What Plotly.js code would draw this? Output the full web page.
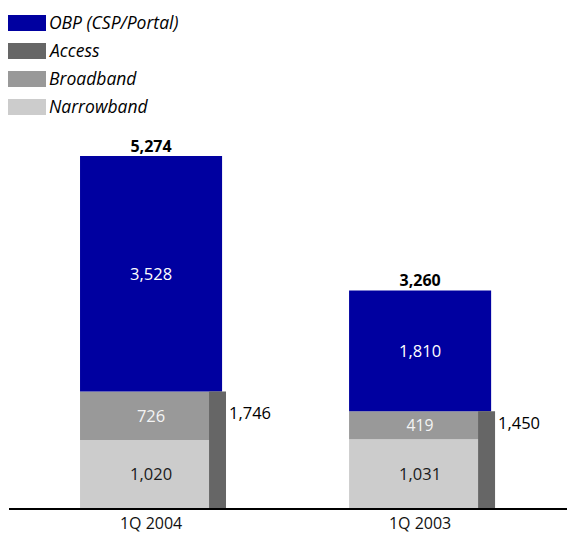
<!DOCTYPE html>
<html><head><meta charset="utf-8">
<script src="https://cdn.plot.ly/plotly-3.0.1.min.js"></script>
<style>html,body{margin:0;padding:0;background:#fff}#chart{width:567px;height:533px}</style>
</head><body><div id="chart"></div>
<script>
const categories = ['1Q 2004', '1Q 2003'];
const narrowband = [1020, 1031];
const broadband = [726, 419];
const obp = [3528, 1810];
const access = [1746, 1450];
const seriesNames = ['OBP (CSP/Portal)', 'Access', 'Broadband', 'Narrowband'];
const seriesColors = ['#0000a0', '#666666', '#999999', '#cccccc'];

const fmt = v => v.toLocaleString('en-US');
const totals = categories.map((c, i) => narrowband[i] + broadband[i] + obp[i]);
const bbBase = narrowband.slice();
const obpBase = narrowband.map((v, i) => v + broadband[i]);
const accessLabelY = narrowband.map((v, i) => v + broadband[i] / 2);

const FONT = '"Open Sans", "Noto Sans", sans-serif';
const W = 567, H = 533, L = 9, R = 0, T = 130, B = 25;
const PW = W - L - R, PH = H - T - B;
const pxPerUnit = 352 / 5274;
const yMax = PH / pxPerUnit;
const X = px => (px - L) / PW;
const Y = py => (H - B - py) / PH;

const mainW = 0.528, accW = 0.063, accOff = 0.2156;

const traces = [
  {type: 'bar', x: categories, y: narrowband, base: 0, width: mainW,
   marker: {color: seriesColors[3]}, text: narrowband.map(fmt), texttemplate: '%{text}',
   textposition: 'inside', insidetextanchor: 'middle',
   textfont: {family: FONT, size: 16.5, color: '#1a1a1a', weight: 500}, hoverinfo: 'skip', showlegend: false},
  {type: 'bar', x: categories, y: broadband, base: bbBase, width: mainW,
   marker: {color: seriesColors[2]}, text: broadband.map(fmt), texttemplate: '%{text}',
   textposition: 'inside', insidetextanchor: 'middle',
   textfont: {family: FONT, size: 16.5, color: '#f4f4f4', weight: 500}, hoverinfo: 'skip', showlegend: false},
  {type: 'bar', x: categories, y: obp, base: obpBase, width: mainW,
   marker: {color: seriesColors[0]}, text: obp.map(fmt), texttemplate: '%{text}',
   textposition: 'inside', insidetextanchor: 'middle',
   textfont: {family: FONT, size: 16.5, color: '#ffffff', weight: 500}, hoverinfo: 'skip', showlegend: false},
  {type: 'bar', x: categories, y: access, base: 0, width: accW, offset: accOff,
   marker: {color: seriesColors[1]}, hoverinfo: 'skip', showlegend: false},
  {type: 'scatter', mode: 'text', x: categories, y: totals,
   text: totals.map(v => '<b>' + fmt(v) + '</b>'), textposition: 'top center',
   textfont: {family: FONT, size: 16, color: '#000'}, hoverinfo: 'skip', showlegend: false, cliponaxis: false}
];

const shapes = [];
const annotations = [];
const rowTop = [15, 43, 71, 99];
seriesNames.forEach((name, i) => {
  shapes.push({type: 'rect', xref: 'paper', yref: 'paper',
    x0: X(8), x1: X(46), y0: Y(rowTop[i] + 16), y1: Y(rowTop[i]),
    fillcolor: seriesColors[i], line: {width: 0}});
  annotations.push({xref: 'paper', yref: 'paper', x: X(47), y: Y(rowTop[i] + 7),
    xanchor: 'left', yanchor: 'middle', showarrow: false,
    text: '<i>' + name + '</i>', font: {family: FONT, size: 17.5, color: '#000', weight: 500}});
});
categories.forEach((c, i) => {
  annotations.push({xref: 'x', yref: 'y', x: i + accOff + accW, y: accessLabelY[i],
    xanchor: 'left', yanchor: 'middle', yshift: 3, xshift: 1, showarrow: false,
    text: fmt(access[i]), font: {family: FONT, size: 16.5, color: '#000', weight: 500}});
});

const layout = {
  width: W, height: H,
  margin: {l: L, r: R, t: T, b: B, pad: 0},
  paper_bgcolor: '#fff', plot_bgcolor: '#fff',
  barmode: 'overlay',
  hovermode: false,
  showlegend: false,
  font: {family: FONT, size: 16, color: '#000'},
  xaxis: {type: 'category', range: [-0.528, 1.546], showline: true, linewidth: 2, linecolor: '#000',
    ticks: '', showgrid: false, zeroline: false, tickfont: {family: FONT, size: 16, color: '#111'}, fixedrange: true},
  yaxis: {range: [0, yMax], showline: false, showgrid: false, zeroline: false, showticklabels: false, ticks: '', fixedrange: true},
  shapes: shapes,
  annotations: annotations
};

Plotly.newPlot('chart', traces, layout, {displayModeBar: false, staticPlot: true});
</script>
</body></html>
